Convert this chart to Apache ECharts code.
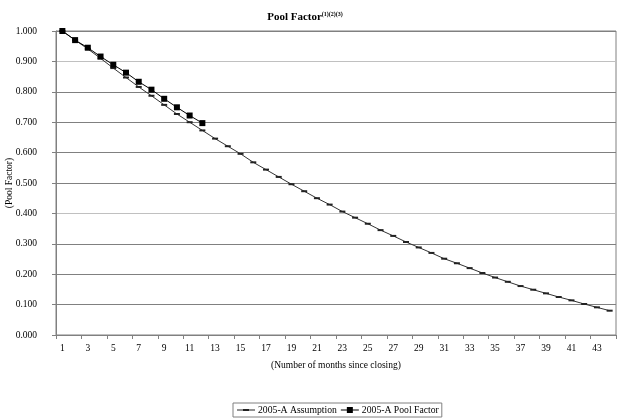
<!DOCTYPE html>
<html><head><meta charset="utf-8">
<script src="https://cdn.jsdelivr.net/npm/echarts@6/dist/echarts.min.js"></script>
<style>html,body{margin:0;padding:0;background:#fff}#c{width:617px;height:420px}</style>
</head><body><div id="c"></div>
<script>
var months = [];
for (var i = 1; i <= 44; i++) months.push(String(i));
var assumption = [1.000,0.970,0.941,0.910,0.878,0.847,0.816,0.787,0.757,0.727,0.700,0.673,
0.646,0.621,0.596,0.568,0.544,0.520,0.496,0.473,0.450,0.429,0.406,0.386,0.366,0.345,0.326,0.306,
0.288,0.270,0.251,0.236,0.220,0.204,0.189,0.175,0.161,0.149,0.137,0.125,0.114,0.102,0.091,0.080];
var poolFactor = [1.000,0.970,0.945,0.916,0.889,0.863,0.833,0.807,0.777,0.749,0.722,0.697];
var F = '"Liberation Serif","DejaVu Serif",serif';
var chart = echarts.init(document.getElementById('c'));
chart.setOption({
  animation:false,
  title:{text:'{t|Pool Factor}{s|(1)(2)(3)}', left:300, top:6, textAlign:'center',
    textStyle:{rich:{t:{fontFamily:F,fontSize:11,fontWeight:'bold',color:'#000',verticalAlign:'bottom'},
      s:{fontFamily:F,fontSize:6,color:'#000',verticalAlign:'top',padding:[0,0,6,0]}}}},
  grid:{left:56,right:1,top:31,bottom:85,show:true,borderColor:'#808080',borderWidth:1,
    containLabel:false,outerBoundsMode:'none'},
  legend:{bottom:3,left:233,itemGap:4,itemWidth:18,itemHeight:6,
    borderColor:'#808080',borderWidth:1,padding:[2,3,2,4],borderRadius:0,
    textStyle:{fontFamily:F,fontSize:9.7,color:'#000',padding:[0,0,0,-2]},
    data:[{name:'2005-A Assumption',icon:'path://M0,2.5h18v1h-18zM6,2h6v2h-6z'},
          {name:'2005-A Pool Factor',icon:'path://M0,2.5h18v1h-18zM6,0h6v6h-6z'}]},
  xAxis:{type:'category',data:months,boundaryGap:true,
    name:'(Number of months since closing)',nameLocation:'middle',nameGap:25,
    nameTextStyle:{fontFamily:F,fontSize:9.5,color:'#000'},
    axisLine:{lineStyle:{color:'#808080'}},
    axisTick:{show:true,length:4,lineStyle:{color:'#808080'}},
    axisLabel:{interval:1,fontFamily:F,fontSize:9.5,color:'#000',margin:8}},
  yAxis:{type:'value',min:0,max:1,interval:0.1,
    name:'(Pool Factor)',nameLocation:'middle',nameGap:42,nameRotate:90,nameMoveOverlap:false,
    nameTextStyle:{fontFamily:F,fontSize:9.5,color:'#000'},
    axisLine:{show:true,lineStyle:{color:'#808080'}},
    axisTick:{show:true,length:4,lineStyle:{color:'#808080'}},
    axisLabel:{formatter:function(v){return v.toFixed(3);},fontFamily:F,fontSize:9.5,color:'#000',margin:19},
    splitLine:{lineStyle:{color:['#808080','#808080','#808080','#808080','#c0c0c0'],width:1}}},
  series:[
    {name:'2005-A Assumption',type:'line',data:assumption,symbol:'rect',symbolSize:[6,2],
      showAllSymbol:true,itemStyle:{color:'#222'},lineStyle:{color:'#333',width:1}},
    {name:'2005-A Pool Factor',type:'line',data:poolFactor,symbol:'rect',symbolSize:6,
      itemStyle:{color:'#000'},lineStyle:{color:'#000',width:1}}
  ]
});
</script></body></html>
